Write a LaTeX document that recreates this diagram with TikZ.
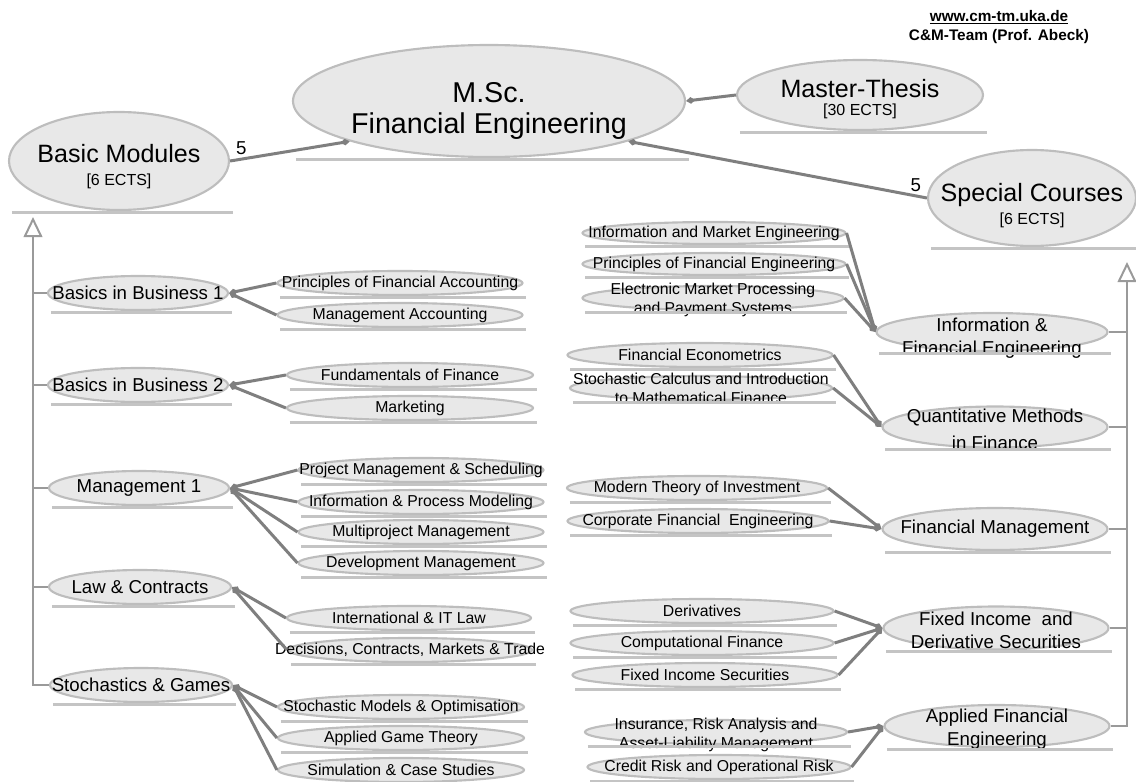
\documentclass[tikz,border=0pt]{standalone}
\usepackage{fontspec}
\setmainfont{Liberation Sans}
\usetikzlibrary{arrows.meta,shapes.geometric}

\definecolor{modfill}{HTML}{E8E8E8}
\definecolor{modline}{HTML}{BDBDBD}
\definecolor{barline}{HTML}{C4C4C4}
\definecolor{linkline}{HTML}{7F7F7F}
\definecolor{spineline}{HTML}{9A9A9A}

\newcommand\topfont{\fontsize{21.5}{23}\selectfont}
\newcommand\bigfont{\fontsize{18.8}{17.25}\selectfont}
\newcommand\ectsfont{\fontsize{12}{17.25}\selectfont}
\newcommand\midfont{\fontsize{14}{17}\selectfont}
\newcommand\leaffont{\fontsize{11.85}{14.25}\selectfont}
\newcommand\headfont{\bfseries\fontsize{11.5}{13}\selectfont}

\tikzset{
  modbox/.style={ellipse,draw=modline,line width=1.6pt,fill=modfill,inner sep=0pt},
  modtext/.style={align=center,inner sep=0pt},
  modbar/.style={draw=barline,line width=2.25pt},
  leaft/.style={font=\leaffont},
  midt/.style={font=\midfont},
  link/.style={draw=linkline,line width=2.25pt,-{Diamond[length=7pt,width=5pt]}},
  spine/.style={draw=spineline,line width=1.5pt},
  gen/.style={-{Triangle[open,length=15pt,width=14pt]}},
}

%% module: ellipse, its text and the bar beneath it
\newcommand\module[7][]{%
  \node[modbox,minimum width=#5*0.75pt,minimum height=#6*0.75pt] (#2) at (#3,#4) {};
  \node[modtext,#1] (#2t) at (#2.center) {#7};
  \draw[modbar] ([xshift=3pt,yshift=-0.75pt]#2.west |- #2.south) -- ([xshift=2pt,yshift=-0.75pt]#2.east |- #2.south);
}

\begin{document}
\begin{tikzpicture}[x=0.75pt,y=-0.75pt]
  \useasboundingbox (0,0) rectangle (1136,782);
  %% header
  \node[font=\headfont] (web) at (999,17) {\underline{www.cm-tm.uka.de}};
  \node[font=\headfont] (team) at (999,37) {C\&M-Team (Prof. Abeck)};

  %% top level
  \module[font=\topfont,yshift=-7.5pt]{msc}{489}{101}{392}{112}{M.Sc.\\Financial Engineering}
  \module[font=\bigfont,yshift=-4.5pt]{bm}{119}{161}{220}{98}{Basic Modules\\\ectsfont[6 ECTS]}
  \module[font=\bigfont,yshift=-3pt]{mt}{860}{95}{246}{70}{Master-Thesis\\[-3.5pt]\ectsfont[30 ECTS]}
  \module[font=\bigfont,yshift=-6pt]{sc}{1032}{198}{208}{96}{Special Courses\\\ectsfont[6 ECTS]}

  %% basic modules
  \module[midt]{b1}{138}{293}{180}{34}{Basics in Business 1}
  \module[midt]{b2}{138}{385}{180}{34}{Basics in Business 2}
  \module[midt]{m1}{139}{488}{180}{34}{Management 1}
  \module[midt]{lc}{140}{587}{182}{34}{Law \& Contracts}
  \module[midt]{sg}{141}{685}{182}{34}{Stochastics \& Games}

  \module[leaft]{pfa}{400}{283}{245}{24}{Principles of Financial Accounting}
  \module[leaft]{ma}{400}{315}{245}{24}{Management Accounting}
  \module[leaft]{fof}{410}{375}{246}{24}{Fundamentals of Finance}
  \module[leaft]{mkt}{410}{408}{246}{24}{Marketing}
  \module[leaft]{pms}{421}{470}{245}{24}{Project Management \& Scheduling}
  \module[leaft]{ipm}{421}{502}{245}{24}{Information \& Process Modeling}
  \module[leaft]{mpm}{421}{532}{245}{24}{Multiproject Management}
  \module[leaft]{dm}{421}{563}{245}{24}{Development Management}
  \module[leaft]{itl}{409}{618}{244}{24}{International \& IT Law}
  \module[leaft]{dcm}{410}{650}{244}{24}{Decisions, Contracts, Markets \& Trade}
  \module[leaft]{smo}{401}{707}{246}{24}{Stochastic Models \& Optimisation}
  \module[leaft]{agt}{401}{738}{246}{24}{Applied Game Theory}
  \module[leaft]{scs}{401}{770}{246}{24}{Simulation \& Case Studies}

  %% special courses
  \module[midt,yshift=-4.5pt]{ife}{992}{332}{231}{38}{Information \&\\Financial Engineering}
  \module[midt,yshift=-1.5pt]{qmf}{995}{427}{225}{41}{Quantitative Methods\\[3pt]in Finance}
  \module[midt]{fm}{995}{529}{225}{42}{Financial Management}
  \module[midt,yshift=-1.5pt]{fid}{996}{628}{225}{43}{Fixed Income \ and\\Derivative Securities}
  \module[midt,yshift=-2.5pt]{afe}{997}{726}{225}{42}{Applied Financial\\Engineering}

  \module[leaft]{ime}{714}{233}{263}{22}{Information and Market Engineering}
  \module[leaft]{pfe}{714}{264}{263}{22}{Principles of Financial Engineering}
  \module[leaft,yshift=-1.5pt]{emp}{713}{298}{261}{24}{Electronic Market Processing\\and Payment Systems}
  \module[leaft]{fe}{700}{355}{265}{24}{Financial Econometrics}
  \module[leaft]{scm}{701}{388}{262}{24}{Stochastic Calculus and Introduction\\to Mathematical Finance}
  \module[leaft]{mti}{697}{488}{260}{24}{Modern Theory of Investment}
  \module[leaft]{cfe}{698}{521}{261}{24}{Corporate Financial \ Engineering}
  \module[leaft]{der}{702}{611}{263}{24}{Derivatives}
  \module[leaft]{cf}{702}{643}{263}{24}{Computational Finance}
  \module[leaft]{fis}{705}{675}{265}{24}{Fixed Income Securities}
  \module[leaft,yshift=-2pt]{ira}{716}{732}{262}{24}{Insurance, Risk Analysis and\\Asset-Liability Management}
  \module[leaft]{crr}{719}{767}{263}{24}{Credit Risk and Operational Risk}

  %% generalisation spines
  \coordinate (ltip) at (33,217);
  \coordinate (rtip) at (1127,262);
  \draw[spine,gen] (sg.west) -- (sg.west -| ltip) -- (ltip);
  \draw[spine] (b1.west) -- (b1.west -| ltip);
  \draw[spine] (b2.west) -- (b2.west -| ltip);
  \draw[spine] (m1.west) -- (m1.west -| ltip);
  \draw[spine] (lc.west) -- (lc.west -| ltip);
  \draw[spine,gen] (afe.east) -- (afe.east -| rtip) -- (rtip);
  \draw[spine] (ife.east) -- (ife.east -| rtip);
  \draw[spine] (qmf.east) -- (qmf.east -| rtip);
  \draw[spine] (fm.east) -- (fm.east -| rtip);
  \draw[spine] (fid.east) -- (fid.east -| rtip);

  %% top links
  \draw[link] (bm.east) -- node[pos=0,above right,font=\midfont] (bmn) {5} (msc.south west);
  \draw[link] (sc.west) -- node[pos=0,above left,font=\midfont] (scn) {5} (msc.south east);
  \draw[link] (mt.west) -- (msc.east);

  %% aggregation links, left
  \draw[link] (pfa.west) -- (b1.east);
  \draw[link] (ma.west) -- (b1.east);
  \draw[link] (fof.west) -- (b2.east);
  \draw[link] (mkt.west) -- (b2.east);
  \draw[link] (pms.west) -- (m1.east);
  \draw[link] (ipm.west) -- (m1.east);
  \draw[link] (mpm.west) -- (m1.east);
  \draw[link] (dm.west) -- (m1.east);
  \draw[link] (itl.west) -- (lc.east);
  \draw[link] (dcm.west) -- (lc.east);
  \draw[link] (smo.west) -- (sg.east);
  \draw[link] (agt.west) -- (sg.east);
  \draw[link] (scs.west) -- (sg.east);

  %% aggregation links, right
  \draw[link] (ime.east) -- (ife.west);
  \draw[link] (pfe.east) -- (ife.west);
  \draw[link] (emp.east) -- (ife.west);
  \draw[link] (fe.east) -- (qmf.west);
  \draw[link] (scm.east) -- (qmf.west);
  \draw[link] (mti.east) -- (fm.west);
  \draw[link] (cfe.east) -- (fm.west);
  \draw[link] (der.east) -- (fid.west);
  \draw[link] (cf.east) -- (fid.west);
  \draw[link] (fis.east) -- (fid.west);
  \draw[link] (ira.east) -- (afe.west);
  \draw[link] (crr.east) -- (afe.west);
\end{tikzpicture}
\end{document}
